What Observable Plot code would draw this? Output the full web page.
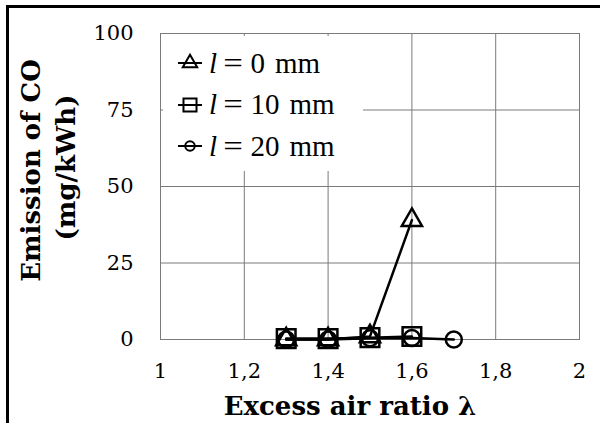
<!DOCTYPE html>
<html>
<head>
<meta charset="utf-8">
<script src="https://cdn.jsdelivr.net/npm/d3@7"></script>
<script src="https://cdn.jsdelivr.net/npm/@observablehq/plot@0.6"></script>
<style>
  html, body { margin: 0; padding: 0; background: #fff; }
  #wrap { position: relative; width: 600px; height: 423px; overflow: hidden; }
  #border { position: absolute; left: 6px; top: 5px; width: 620px; height: 440px;
            border-top: 3px solid #000; border-left: 3px solid #000; pointer-events: none; }
  #legend { position: absolute; left: 163px; top: 36px; width: 200px; height: 135px;
            background: #fff; font-family: "Liberation Serif", serif; font-size: 29px; color: #000; }
  .row { position: absolute; left: 14px; height: 34px; display: flex; align-items: center; white-space: nowrap; }
  .row svg { margin-right: 6px; }
  .row .eq { display: inline-block; margin: 0 9px 0 8px; transform: scaleX(1.2); }
  .row .unit { display: inline-block; margin-left: 10px; }
</style>
</head>
<body>
<div id="wrap">
  <div id="chart"></div>
  <div id="legend"></div>
  <div id="border"></div>
</div>
<script>
// Data
const lambda0 = [1.3, 1.4, 1.5, 1.6];
const co0 = [0, 0, 1, 39];
const lambda10 = [1.3, 1.4, 1.5, 1.6];
const co10 = [0.3, 0.3, 0.6, 1];
const lambda20 = [1.3, 1.4, 1.5, 1.6, 1.7];
const co20 = [0, 0, 0.4, 0.5, 0];

const seriesVar = ["l", "l", "l"];
const seriesValues = ["0", "10", "20"];
const seriesUnit = "mm";
const xTicks = [1, 1.2, 1.4, 1.6, 1.8, 2];
const yTicks = [0, 25, 50, 75, 100];
const xTitle = "Excess air ratio λ";
const yTitle = ["Emission of CO", "(mg/kWh)"];

const mk = (xs, ys) => xs.map((x, i) => ({x, y: ys[i]}));
const s0 = mk(lambda0, co0), s10 = mk(lambda10, co10), s20 = mk(lambda20, co20);

const tickFont = "DejaVu Serif, serif";
const titleFont = "DejaVu Serif, serif";

const chart = Plot.plot({
  width: 600,
  height: 423,
  marginLeft: 160,
  marginRight: 21,
  marginTop: 33,
  marginBottom: 84,
  style: { fontFamily: tickFont, fontSize: "21px", color: "#000", background: "transparent" },
  x: { domain: [1, 2] },
  y: { domain: [0, 100] },
  marks: [
    Plot.gridX(xTicks, { stroke: "#7a7a7a", strokeOpacity: 1 }),
    Plot.gridY(yTicks, { stroke: "#7a7a7a", strokeOpacity: 1 }),
    Plot.frame({ stroke: "#7a7a7a" }),
    Plot.axisX(xTicks, { tickSize: 0, tickPadding: 24, label: null,
      tickFormat: d => String(d).replace(".", ","), fontSize: 21, fontFamily: tickFont }),
    Plot.axisY(yTicks, { tickSize: 0, tickPadding: 27, label: null, fontSize: 21, fontFamily: tickFont }),
    Plot.line(s20, { x: "x", y: "y", stroke: "#000", strokeWidth: 2.5 }),
    Plot.line(s10, { x: "x", y: "y", stroke: "#000", strokeWidth: 2.5 }),
    Plot.line(s0, { x: "x", y: "y", stroke: "#000", strokeWidth: 2.5 }),
    Plot.dot(s20, { x: "x", y: "y", symbol: "circle", r: 8, stroke: "#000", strokeWidth: 2.5, fill: "none" }),
    Plot.dot(s10, { x: "x", y: "y", symbol: "square", r: 10.5, stroke: "#000", strokeWidth: 2.5, fill: "none" }),
    Plot.dot(s0, { x: "x", y: "y", symbol: "triangle", r: 7.5, stroke: "#000", strokeWidth: 2.5, fill: "none" }),
    Plot.text([xTitle], { frameAnchor: "bottom", text: d => d, dx: -20, dy: 67, lineAnchor: "middle",
      textAnchor: "middle", fontWeight: "bold", fontSize: 26, fontFamily: titleFont }),
    Plot.text([yTitle[0]], { frameAnchor: "left", text: d => d, rotate: -90, dx: -129, dy: -16,
      textAnchor: "middle", lineAnchor: "middle", fontWeight: "bold", fontSize: 26, fontFamily: titleFont }),
    Plot.text([yTitle[1]], { frameAnchor: "left", text: d => d, rotate: -90, dx: -94, dy: -19,
      textAnchor: "middle", lineAnchor: "middle", fontWeight: "bold", fontSize: 26, fontFamily: titleFont })
  ]
});
document.getElementById("chart").appendChild(chart);

// Legend
const symbols = [d3.symbolTriangle, d3.symbolSquare, d3.symbolCircle];
const symSizes = [90, 170, 70];
const legend = d3.select("#legend");
seriesValues.forEach((v, i) => {
  const row = legend.append("div").attr("class", "row").style("top", (10 + i * 41.5) + "px");
  const svg = row.append("svg").attr("width", 26).attr("height", 26);
  svg.append("line").attr("x1", 1).attr("x2", 25).attr("y1", 13).attr("y2", 13)
    .attr("stroke", "#000").attr("stroke-width", 2);
  svg.append("path").attr("d", d3.symbol(symbols[i], symSizes[i])())
    .attr("transform", "translate(13,13)").attr("fill", "none").attr("stroke", "#000").attr("stroke-width", 2);
  const span = row.append("span");
  span.append("i").text(seriesVar[i]);
  span.append("span").attr("class", "eq").text("=");
  span.append("span").text(v);
  span.append("span").attr("class", "unit").text(seriesUnit);
});
</script>
</body>
</html>
